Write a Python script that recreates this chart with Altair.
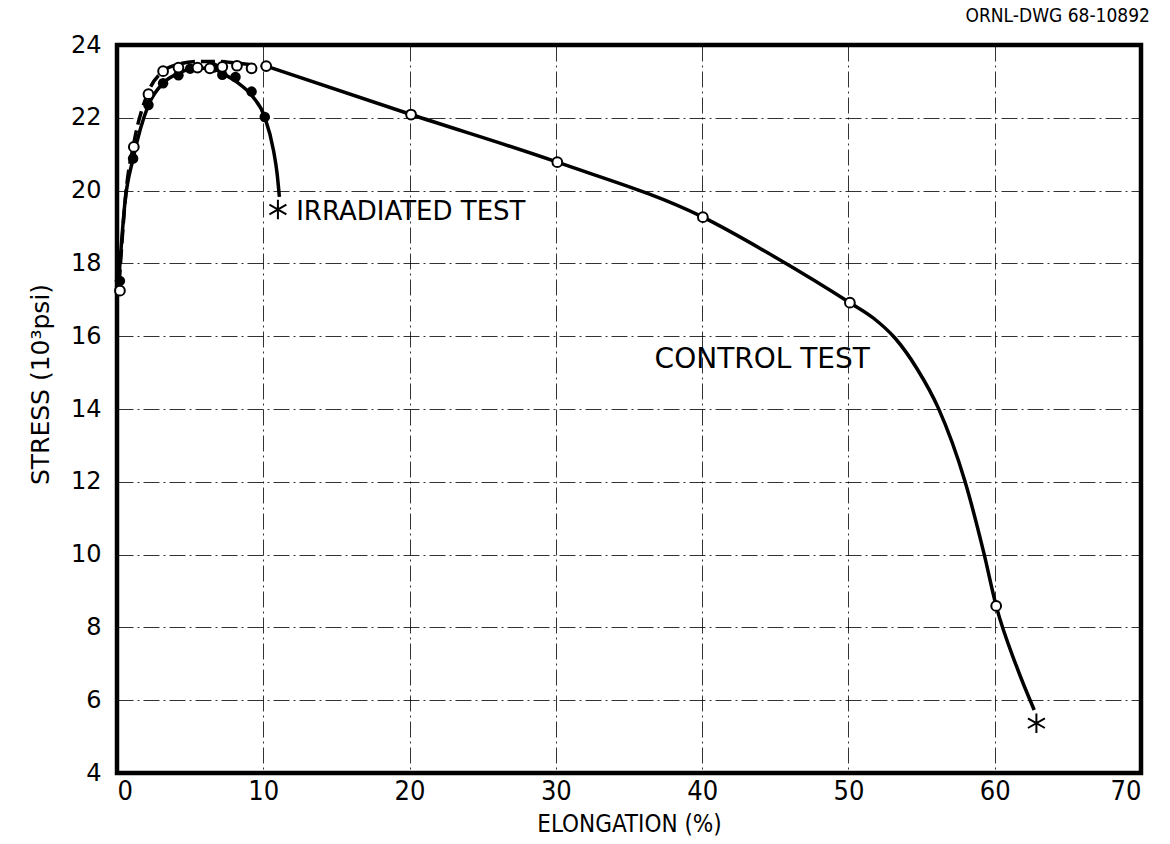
import altair as alt
import pandas as pd

# Measured points (elongation %, stress 10^3 psi)
control_x = [0.2, 1.15, 2.15, 3.15, 4.2, 5.5, 6.35, 7.2, 8.2, 9.2, 10.2, 20.1, 30.1, 40.05, 50.1, 60.1]
control_y = [17.25, 21.2, 22.65, 23.28, 23.38, 23.38, 23.36, 23.4, 23.43, 23.36, 23.42, 22.09, 20.78, 19.27, 16.92, 8.59]

irrad_x = [0.2, 1.1, 2.15, 3.15, 4.2, 5.0, 6.6, 7.2, 8.1, 9.2, 10.1]
irrad_y = [17.52, 20.88, 22.35, 22.95, 23.17, 23.35, 23.38, 23.18, 23.12, 22.72, 22.02]

# Fracture points
fracture_x = [11.0, 62.85]
fracture_y = [19.48, 5.37]

# Faired curves through the data
irrad_curve_x = [0.15, 0.55, 1.1, 2.15, 3.15, 4.2, 5.3, 6.4, 7.3, 8.2, 9.2, 10.1, 10.7, 10.95, 11.1]
irrad_curve_y = [17.7, 19.7, 20.88, 22.35, 22.95, 23.22, 23.36, 23.36, 23.2, 22.98, 22.62, 22.02, 21.1, 20.45, 19.83]

ctrl_dash_x = [0.15, 0.6, 1.15, 2.15, 3.15, 4.2, 5.5, 7.0, 8.2, 9.2, 10.2]
ctrl_dash_y = [17.45, 19.9, 21.3, 22.72, 23.28, 23.47, 23.55, 23.55, 23.5, 23.46, 23.42]

ctrl_solid_x = [10.2, 20.1, 30.1, 40.05, 45.0, 50.1, 51.7, 53.18, 54.7, 56.14, 57.96, 59.26, 60.1, 61.5, 62.7]
ctrl_solid_y = [23.42, 22.09, 20.78, 19.27, 18.17, 16.92, 16.5, 15.95, 15.1, 14.03, 12.02, 10.04, 8.59, 6.92, 5.73]

x_ticks = [0, 10, 20, 30, 40, 50, 60, 70]
y_ticks = [4, 6, 8, 10, 12, 14, 16, 18, 20, 22, 24]

FONT = "DejaVu Sans"
NARROW = "DejaVu Sans Condensed"

x_scale = alt.Scale(domain=[0, 70], nice=False, zero=False)
y_scale = alt.Scale(domain=[4, 24], nice=False, zero=False)

grid_style = dict(grid=True, gridColor="black", gridWidth=1, gridDash=[16, 4, 2, 4],
                  gridOpacity=0.8, ticks=False, domain=False,
                  labelColor="black", titleColor="black", titleFontWeight="normal")

x_enc = alt.X(
    "x:Q", scale=x_scale,
    axis=alt.Axis(values=x_ticks, title="ELONGATION (%)", titleFontSize=24,
                  titlePadding=8, labelFontSize=27, labelPadding=5,
                  labelFont=NARROW, titleFont=NARROW, **grid_style),
)
y_enc = alt.Y(
    "y:Q", scale=y_scale,
    axis=alt.Axis(values=y_ticks, title="STRESS (10³psi)", titleFontSize=25,
                  labelFontSize=24, labelPadding=16, titleX=-64, titleY=339,
                  labelFont=FONT, titleFont=FONT, **grid_style),
)

irrad_curve = pd.DataFrame({"x": irrad_curve_x, "y": irrad_curve_y})
ctrl_dash = pd.DataFrame({"x": ctrl_dash_x, "y": ctrl_dash_y})
ctrl_solid = pd.DataFrame({"x": ctrl_solid_x, "y": ctrl_solid_y})
control_pts = pd.DataFrame({"x": control_x, "y": control_y})
irrad_pts = pd.DataFrame({"x": irrad_x, "y": irrad_y})
fracture = pd.DataFrame({"x": fracture_x, "y": fracture_y})

line_irrad = alt.Chart(irrad_curve).mark_line(
    color="black", strokeWidth=3.5, interpolate="monotone"
).encode(x=x_enc, y=y_enc)

line_ctrl_dash = alt.Chart(ctrl_dash).mark_line(
    color="black", strokeWidth=3.5, interpolate="monotone", strokeDash=[14, 6]
).encode(x="x:Q", y="y:Q")

line_ctrl_solid = alt.Chart(ctrl_solid).mark_line(
    color="black", strokeWidth=3.5, interpolate="monotone"
).encode(x="x:Q", y="y:Q")

pts_irrad = alt.Chart(irrad_pts).mark_point(
    shape="circle", filled=True, color="black", size=110, opacity=1
).encode(x="x:Q", y="y:Q")

pts_ctrl = alt.Chart(control_pts).mark_point(
    shape="circle", filled=True, fill="white", stroke="black", strokeWidth=2,
    size=95, opacity=1
).encode(x="x:Q", y="y:Q")

asterisk = "M0,-1L0,1M-0.87,-0.5L0.87,0.5M-0.87,0.5L0.87,-0.5"
pts_frac = alt.Chart(fracture).mark_point(
    shape=asterisk, filled=False, color="black", strokeWidth=2, size=380, opacity=1
).encode(x="x:Q", y="y:Q")

txt_irrad = alt.Chart(pd.DataFrame({"x": [12.25], "y": [19.4], "t": ["IRRADIATED TEST"]})).mark_text(
    align="left", baseline="middle", fontSize=26, font=FONT, color="black"
).encode(x="x:Q", y="y:Q", text="t:N")

txt_ctrl = alt.Chart(pd.DataFrame({"x": [36.75], "y": [15.35], "t": ["CONTROL TEST"]})).mark_text(
    align="left", baseline="middle", fontSize=28, font=FONT, color="black"
).encode(x="x:Q", y="y:Q", text="t:N")

dwg = alt.Chart(pd.DataFrame({"t": ["ORNL-DWG 68-10892"]})).mark_text(
    align="right", baseline="middle", fontSize=19, font=NARROW, color="black"
).encode(x=alt.value(1033), y=alt.value(-29), text="t:N")

chart = alt.layer(
    line_irrad, line_ctrl_dash, line_ctrl_solid, pts_irrad, pts_ctrl, pts_frac,
    txt_irrad, txt_ctrl, dwg
).properties(
    width=1024, height=728,
    autosize=alt.AutoSizeParams(type="none"),
    padding={"left": 117, "top": 45, "right": 29, "bottom": 71},
    background="white",
).configure_view(
    stroke="black", strokeWidth=4.5
)

chart.save("out.html", embed_options={"renderer": "svg", "actions": False})
